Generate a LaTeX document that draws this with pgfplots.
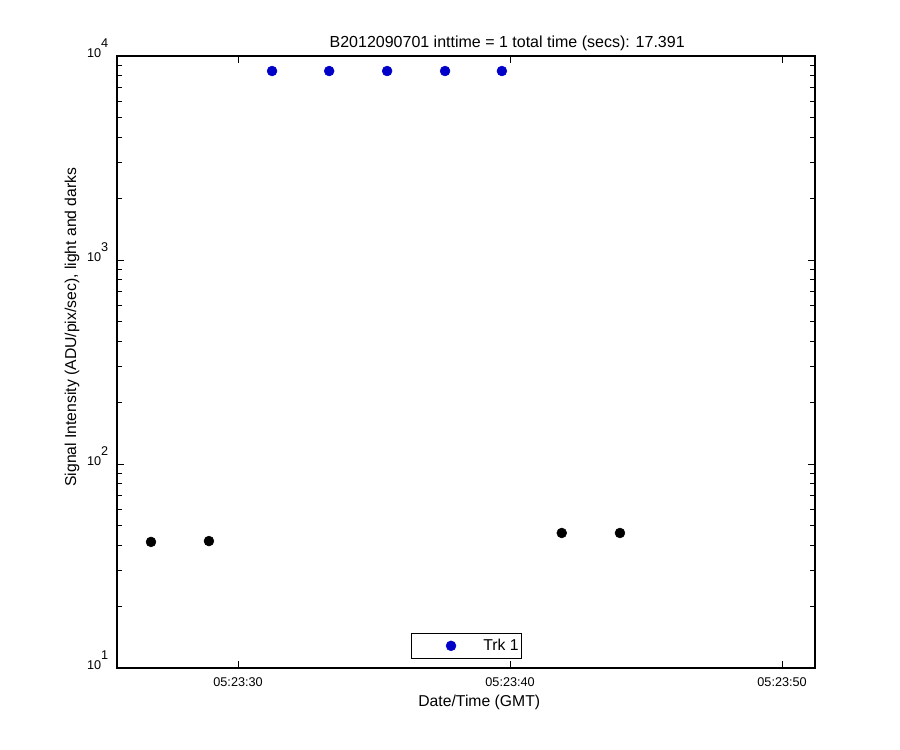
\documentclass[border=0pt]{standalone}
\usepackage{pgfplots}
\pgfplotsset{compat=1.18}
\usepackage{fontspec}
\setmainfont{Liberation Sans}
\definecolor{trkblue}{RGB}{0,0,200}
\newcommand{\tenexp}[1]{10\raisebox{0.75em}{#1}}
\begin{document}
\begin{tikzpicture}[x=1pt,y=1pt]
\useasboundingbox (0,0) rectangle (675,562.5);
\begin{axis}[
  at={(87.75pt,61.5pt)}, anchor=south west,
  scale only axis, width=523.5pt, height=459pt,
  ymode=log, ymin=10, ymax=10000,
  xmin=25.55, xmax=51.21,
  xtick={30,40,50},
  xticklabels={05:23:30,05:23:40,05:23:50},
  ytick={10,100,1000,10000},
  yticklabels={\tenexp{1},\tenexp{2},\tenexp{3},\tenexp{4}},
  tick align=inside, tick pos=both,
  major tick length=5pt, minor tick length=3.5pt,
  axis line style={line width=0.8pt}, tick style={line width=0.6pt, black},
  ticklabel style={font=\fontsize{9.5}{10}\selectfont},
  xticklabel style={yshift=-4pt},
  yticklabel style={anchor=base east, xshift=-3pt, yshift=-1pt},
  title={B2012090701 inttime = 1 total time (secs): 17.391},
  title style={font=\fontsize{12}{13}\selectfont, at={(axis description cs:0.559,1)}, anchor=south, yshift=-6pt},
  xlabel={Date/Time (GMT)},
  ylabel={Signal Intensity (ADU/pix/sec), light and darks},
  label style={font=\fontsize{11.8}{13}\selectfont},
  xlabel style={at={(axis description cs:0.519,0)}, anchor=north, yshift=-17pt},
  ylabel style={at={(axis description cs:-0.0645,0.557)}, anchor=center, rotate=0},
  legend style={at={(0.5,0.015)}, anchor=south, draw=black, font=\fontsize{11.8}{13}\selectfont, inner xsep=0pt, inner ysep=2.5pt, legend cell align=left},
  legend image code/.code={\path (0pt,0pt) (52pt,0pt); \draw[#1] plot coordinates {(30pt,0pt)};},
]
\addplot[only marks, mark=*, mark size=3.7pt, color=trkblue, mark options={fill=trkblue}]
  coordinates {(31.25,8440) (33.35,8440) (35.48,8440) (37.61,8440) (39.7,8440)};
\addlegendentry{Trk 1\hspace{3pt}}
\addplot[only marks, mark=*, mark size=3.7pt, color=black, forget plot]
  coordinates {(26.8,41.5) (28.93,41.9) (41.9,45.9) (44.04,45.9)};
\end{axis}
\end{tikzpicture}
\end{document}
